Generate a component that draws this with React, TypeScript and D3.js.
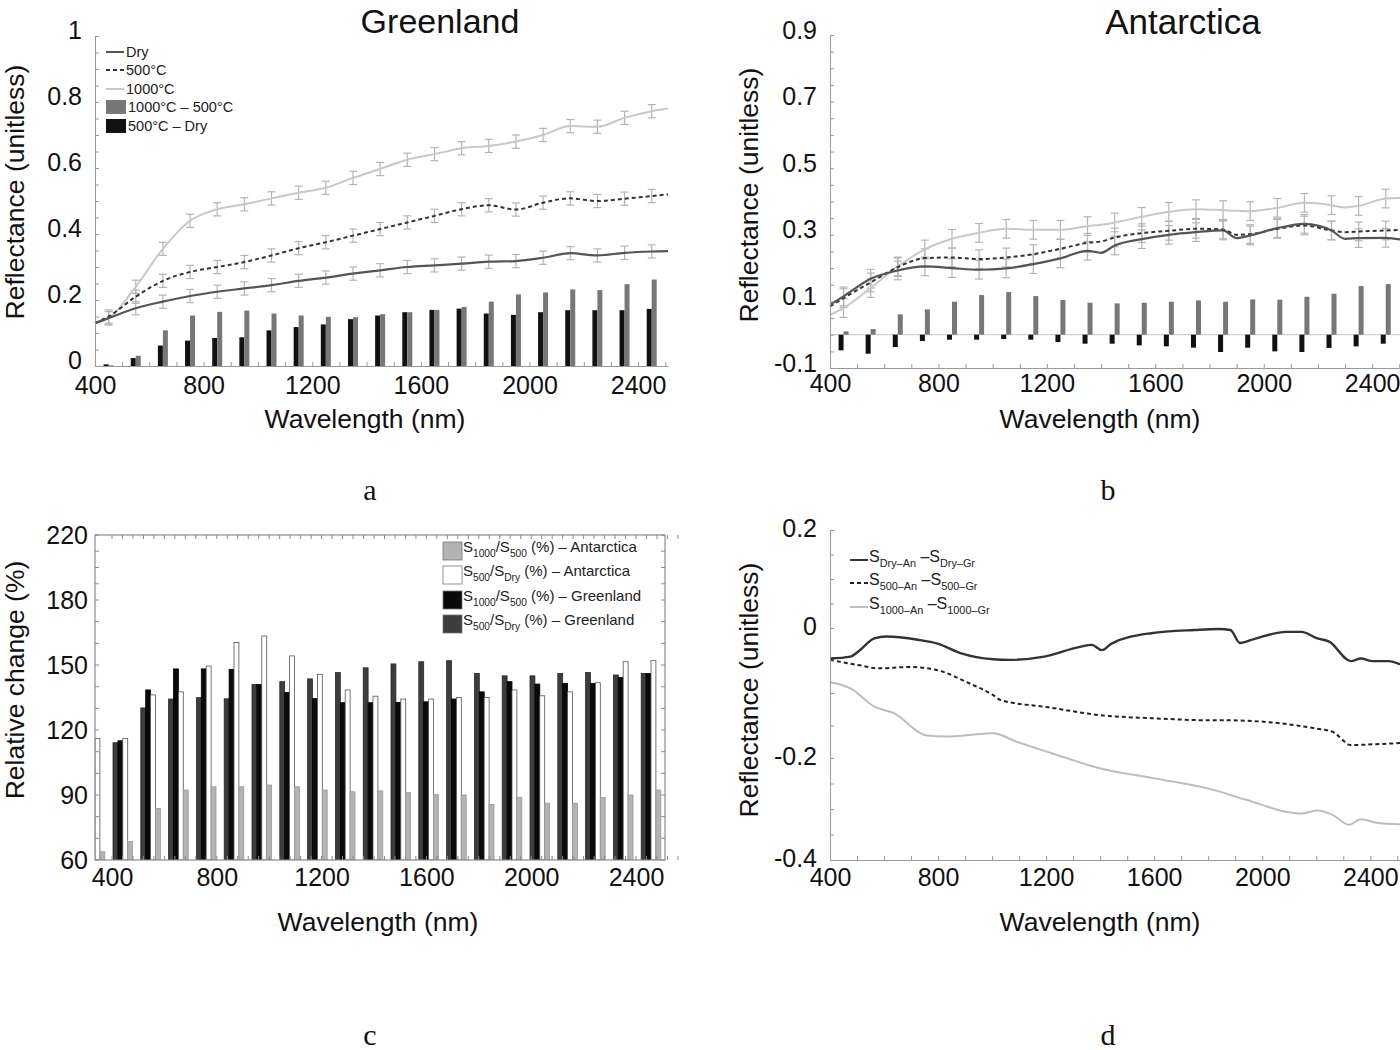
import { useEffect, useRef } from 'react'
import * as d3 from 'd3'

const FONT = '"Liberation Sans", Arial, Helvetica, sans-serif'
const SERIF = '"Liberation Serif", "DejaVu Serif", serif'
const AXIS = '#9a9a9a'

// ---- panel a : Greenland spectra ----
const wlA = [400, 450, 550, 650, 750, 850, 950, 1050, 1150, 1250, 1350, 1450, 1550, 1650, 1750, 1850, 1950, 2050, 2150, 2250, 2350, 2450, 2510]
const grDry = [0.13, 0.145, 0.175, 0.195, 0.212, 0.225, 0.235, 0.245, 0.258, 0.268, 0.28, 0.29, 0.3, 0.305, 0.31, 0.316, 0.318, 0.328, 0.342, 0.335, 0.343, 0.347, 0.348]
const gr500 = [0.13, 0.15, 0.21, 0.258, 0.285, 0.3, 0.315, 0.335, 0.357, 0.375, 0.395, 0.415, 0.435, 0.455, 0.475, 0.487, 0.474, 0.495, 0.508, 0.5, 0.507, 0.515, 0.52]
const gr1000 = [0.13, 0.145, 0.24, 0.355, 0.44, 0.475, 0.49, 0.508, 0.525, 0.54, 0.57, 0.597, 0.625, 0.642, 0.66, 0.667, 0.68, 0.7, 0.727, 0.725, 0.752, 0.772, 0.78]
const barWl = [450, 550, 650, 750, 850, 950, 1050, 1150, 1250, 1350, 1450, 1550, 1650, 1750, 1850, 1950, 2050, 2150, 2250, 2350, 2450]
const gr500MinusDry = [0.005, 0.024, 0.062, 0.077, 0.085, 0.087, 0.108, 0.118, 0.126, 0.142, 0.153, 0.163, 0.17, 0.174, 0.159, 0.155, 0.163, 0.169, 0.169, 0.169, 0.173]
const gr1000Minus500 = [0.002, 0.031, 0.108, 0.153, 0.164, 0.168, 0.159, 0.153, 0.149, 0.148, 0.157, 0.163, 0.17, 0.179, 0.195, 0.217, 0.223, 0.232, 0.23, 0.248, 0.262]

// ---- panel b : Antarctica spectra ----
const wlB = [400, 450, 550, 650, 750, 850, 950, 1050, 1150, 1250, 1350, 1400, 1450, 1550, 1650, 1750, 1850, 1900, 1950, 2050, 2150, 2250, 2300, 2350, 2450, 2510]
const anDry = [0.09, 0.115, 0.168, 0.193, 0.205, 0.2, 0.195, 0.199, 0.212, 0.229, 0.252, 0.246, 0.268, 0.287, 0.3, 0.308, 0.313, 0.29, 0.298, 0.32, 0.333, 0.313, 0.288, 0.29, 0.291, 0.285]
const an500 = [0.085, 0.11, 0.157, 0.203, 0.23, 0.232, 0.227, 0.232, 0.242, 0.258, 0.276, 0.28, 0.292, 0.305, 0.312, 0.318, 0.316, 0.3, 0.302, 0.318, 0.328, 0.313, 0.308, 0.31, 0.313, 0.315]
const an1000 = [0.06, 0.08, 0.14, 0.205, 0.256, 0.288, 0.306, 0.318, 0.315, 0.315, 0.326, 0.33, 0.337, 0.354, 0.369, 0.377, 0.374, 0.372, 0.371, 0.381, 0.396, 0.389, 0.382, 0.387, 0.409, 0.411]
const an1000Minus500 = [0.01, 0.017, 0.061, 0.076, 0.099, 0.119, 0.128, 0.116, 0.104, 0.096, 0.094, 0.096, 0.099, 0.103, 0.099, 0.106, 0.105, 0.114, 0.123, 0.146, 0.152]
const an500MinusDry = [-0.047, -0.057, -0.037, -0.019, -0.015, -0.015, -0.013, -0.015, -0.022, -0.027, -0.027, -0.032, -0.035, -0.039, -0.052, -0.039, -0.05, -0.052, -0.04, -0.035, -0.027]

// ---- panel c : relative change (%) ----
const relWl = [400, 500, 600, 700, 800, 900, 1000, 1100, 1200, 1300, 1400, 1500, 1600, 1700, 1800, 1900, 2000, 2100, 2200, 2300, 2400]
const grRel500Dry = [NaN, 114.1, 130.2, 134.3, 134.9, 134.4, 141, 142.3, 143.6, 146.5, 148.7, 150.5, 151.5, 152, 146.1, 145, 145, 146.1, 146.5, 145.4, 146.1]
const grRel1000to500 = [NaN, 115, 138.5, 148.2, 148.2, 148, 141, 137.3, 134.5, 132.6, 132.6, 132.7, 133, 134.3, 137.6, 142.3, 141.2, 141.5, 141.5, 144.3, 146.1]
const anRel500Dry = [116.1, 116.1, 136.2, 137.6, 149.5, 160.4, 163.4, 154.2, 145.7, 138.5, 135.6, 134.3, 134.3, 135, 135, 138.5, 135.8, 137.6, 141.8, 151.5, 152]
const anRel1000to500 = [63.8, 68.5, 83.8, 92.3, 93.8, 93.8, 94.6, 93.8, 92.3, 91.5, 91.9, 91.1, 90.3, 90, 85.7, 88.8, 86.2, 86.2, 88.9, 90, 92.3]

// ---- panel d : Antarctica minus Greenland ----
const wlDDry = [400, 476, 505, 564, 608, 725, 798, 886, 1003, 1062, 1193, 1325, 1369, 1406, 1442, 1589, 1750, 1838, 1882, 1918, 1969, 2087, 2145, 2204, 2248, 2328, 2365, 2409, 2467, 2510]
const diffDry = [-0.047, -0.044, -0.036, -0.016, -0.013, -0.018, -0.024, -0.039, -0.048, -0.049, -0.044, -0.029, -0.026, -0.034, -0.024, -0.008, -0.003, -0.0015, -0.003, -0.023, -0.017, -0.006, -0.006, -0.016, -0.021, -0.051, -0.047, -0.051, -0.051, -0.056]
const wlD500 = [400, 505, 579, 696, 798, 915, 1003, 1032, 1208, 1398, 1603, 1808, 1866, 1999, 2189, 2262, 2328, 2409, 2510]
const diff500 = [-0.049, -0.057, -0.062, -0.06, -0.065, -0.085, -0.103, -0.111, -0.122, -0.134, -0.139, -0.142, -0.142, -0.144, -0.154, -0.16, -0.18, -0.179, -0.177]
const wlD1000 = [400, 476, 564, 637, 754, 827, 1003, 1091, 1223, 1398, 1603, 1823, 1940, 2145, 2204, 2262, 2321, 2365, 2423, 2510]
const diff1000 = [-0.083, -0.093, -0.121, -0.131, -0.165, -0.167, -0.162, -0.175, -0.193, -0.22, -0.24, -0.263, -0.282, -0.309, -0.303, -0.312, -0.331, -0.32, -0.327, -0.33]

const xTickWl = [400, 800, 1200, 1600, 2000, 2400]

function leftAxis(svg: any, y: any, x0: number, majors: number[], minors: number[], pad: number, shift = 0) {
  const g = svg.append('g').attr('transform', `translate(${x0},0)`)
  g.call(d3.axisLeft(y).tickValues(minors).tickSize(-4).tickSizeOuter(0).tickFormat(() => ''))
  g.select('.domain').attr('stroke', AXIS)
  g.selectAll('.tick line').attr('stroke', AXIS)
  const lab = svg.append('g').attr('transform', `translate(${x0},${shift})`)
  lab.call(d3.axisLeft(y).tickValues(majors).tickSize(0).tickPadding(pad).tickFormat((d: any) => String(d)))
  lab.select('.domain').remove()
  lab.selectAll('text').attr('font-family', FONT).attr('font-size', 25).attr('fill', '#111')
}

function bottomAxis(svg: any, x: any, y0: number, minors: number[], labelScale: any, pad: number) {
  const g = svg.append('g').attr('transform', `translate(0,${y0})`)
  g.call(d3.axisBottom(x).tickValues(minors).tickSize(-4).tickSizeOuter(0).tickFormat(() => ''))
  g.select('.domain').attr('stroke', AXIS)
  g.selectAll('.tick line').attr('stroke', AXIS)
  const lab = svg.append('g').attr('transform', `translate(0,${y0})`)
  lab.call(d3.axisBottom(labelScale).tickValues(xTickWl).tickSize(0).tickPadding(pad).tickFormat((d: any) => String(d)))
  lab.select('.domain').remove()
  lab.selectAll('text').attr('font-family', FONT).attr('font-size', 25).attr('fill', '#111')
}

function label(svg: any, x: number, y: number, text: string, size: number, rotate = false, family = FONT) {
  svg.append('text')
    .attr('transform', rotate ? `translate(${x},${y}) rotate(-90)` : `translate(${x},${y})`)
    .attr('text-anchor', 'middle')
    .attr('font-family', family)
    .attr('font-size', size)
    .attr('fill', '#111')
    .text(text)
}

// alternating normal / subscript parts
function rich(g: any, x: number, y: number, parts: string[], size: number) {
  const t = g.append('text').attr('x', x).attr('y', y)
    .attr('font-family', FONT).attr('font-size', size).attr('fill', '#222')
  parts.forEach((p, i) => {
    const sub = i % 2 === 1
    t.append('tspan')
      .attr('font-size', sub ? size * 0.68 : size)
      .attr('dy', i === 0 ? 0 : sub ? size * 0.32 : -size * 0.32)
      .text(p)
  })
}

const lineStyles = [
  { stroke: '#555', width: 2.2, dash: null },
  { stroke: '#333', width: 2, dash: '4,3' },
  { stroke: '#c8c8c8', width: 2, dash: null },
]

function drawSpectra(svg: any, x: any, y: any, wl: number[], series: number[][], err: number) {
  // error bars at the mid-band wavelengths
  series.forEach(vals => {
    wl.forEach((w, i) => {
      if (w % 100 !== 50) return
      const cx = x(w)
      const g = svg.append('g').attr('stroke', '#b4b4b4').attr('stroke-width', 1.2)
      g.append('line').attr('x1', cx).attr('x2', cx).attr('y1', y(vals[i] - err)).attr('y2', y(vals[i] + err))
      g.append('line').attr('x1', cx - 4).attr('x2', cx + 4).attr('y1', y(vals[i] - err)).attr('y2', y(vals[i] - err))
      g.append('line').attr('x1', cx - 4).attr('x2', cx + 4).attr('y1', y(vals[i] + err)).attr('y2', y(vals[i] + err))
    })
  })
  const order = [2, 1, 0]
  order.forEach(k => {
    const line = d3.line<number>().x((_, i) => x(wl[i])).y(d => y(d)).curve(d3.curveMonotoneX)
    svg.append('path')
      .datum(series[k])
      .attr('fill', 'none')
      .attr('stroke', lineStyles[k].stroke)
      .attr('stroke-width', lineStyles[k].width)
      .attr('stroke-dasharray', lineStyles[k].dash)
      .attr('d', line)
  })
}

function drawPairs(svg: any, x: any, y: any, black: number[], gray: number[]) {
  const bw = 5
  barWl.forEach((w, i) => {
    const cx = x(w)
    svg.append('rect').attr('x', cx - bw).attr('width', bw)
      .attr('y', Math.min(y(0), y(black[i]))).attr('height', Math.abs(y(0) - y(black[i])))
      .attr('fill', '#111')
    svg.append('rect').attr('x', cx).attr('width', bw)
      .attr('y', Math.min(y(0), y(gray[i]))).attr('height', Math.abs(y(0) - y(gray[i])))
      .attr('fill', '#777')
  })
}

function drawGreenland(svg: any) {
  const x = d3.scaleLinear().domain([400, 2510]).range([95, 668])
  const y = d3.scaleLinear().domain([0, 1]).range([366, 36])
  drawPairs(svg, x, y, gr500MinusDry, gr1000Minus500)
  drawSpectra(svg, x, y, wlA, [grDry, gr500, gr1000], 0.02)
  leftAxis(svg, y, 95, [0, 0.2, 0.4, 0.6, 0.8, 1], d3.range(0, 1.001, 0.05), 13, -6)
  bottomAxis(svg, x, 366, d3.range(400, 2501, 100), x, 10)

  // legend
  const lg = svg.append('g')
  const rows = [52, 70, 89, 107, 126]
  const names = ['Dry', '500°C', '1000°C', '1000°C – 500°C', '500°C – Dry']
  names.forEach((n, i) => {
    if (i < 3) {
      lg.append('line').attr('x1', 106).attr('x2', 124).attr('y1', rows[i]).attr('y2', rows[i])
        .attr('stroke', lineStyles[i].stroke).attr('stroke-width', 2).attr('stroke-dasharray', lineStyles[i].dash)
    } else {
      lg.append('rect').attr('x', 106).attr('y', rows[i] - 7).attr('width', 20).attr('height', 14)
        .attr('fill', i === 3 ? '#777' : '#111')
    }
    lg.append('text').attr('x', i < 3 ? 126 : 128).attr('y', rows[i] + 5)
      .attr('font-family', FONT).attr('font-size', 14.5).attr('fill', '#222').text(n)
  })

  label(svg, 440, 33, 'Greenland', 34)
  label(svg, 365, 428, 'Wavelength (nm)', 26.5)
  label(svg, 24, 192, 'Reflectance (unitless)', 26.5, true)
  label(svg, 370, 500, 'a', 30, false, SERIF)
}

function drawAntarctica(svg: any) {
  const x = d3.scaleLinear().domain([400, 2510]).range([830, 1402])
  const y = d3.scaleLinear().domain([-0.1, 0.9]).range([368, 35])
  svg.append('line').attr('x1', 830).attr('x2', 1400).attr('y1', y(0)).attr('y2', y(0))
    .attr('stroke', '#c4c4c4').attr('stroke-width', 1)
  drawPairs(svg, x, y, an500MinusDry, an1000Minus500)
  drawSpectra(svg, x, y, wlB, [anDry, an500, an1000], 0.028)
  leftAxis(svg, y, 830, [-0.1, 0.1, 0.3, 0.5, 0.7, 0.9], d3.range(-0.1, 0.901, 0.05), 13, -5)
  bottomAxis(svg, x, 368, d3.range(400, 2501, 100), x, 6)

  label(svg, 1183, 34, 'Antarctica', 35)
  label(svg, 1100, 428, 'Wavelength (nm)', 26.5)
  label(svg, 758, 195, 'Reflectance (unitless)', 26.5, true)
  label(svg, 1108, 500, 'b', 30, false, SERIF)
}

function drawRelative(svg: any) {
  const left = 95, right = 665, top = 535, bottom = 860
  const x = d3.scaleLinear().domain([400, 2400]).range([95, 651])
  const xLab = d3.scaleLinear().domain([400, 2400]).range([112, 636])
  const y = d3.scaleLinear().domain([60, 180, 220]).range([860, 600, 535])

  const clip = svg.append('clipPath').attr('id', 'clipC')
  clip.append('rect').attr('x', left).attr('y', top).attr('width', right - left).attr('height', bottom - top)
  const bars = svg.append('g').attr('clip-path', 'url(#clipC)')

  const bw = 4.9
  const series = [
    { vals: grRel500Dry, fill: '#3d3d3d', stroke: '#2a2a2a' },
    { vals: grRel1000to500, fill: '#0a0a0a', stroke: '#000' },
    { vals: anRel500Dry, fill: '#fff', stroke: '#555' },
    { vals: anRel1000to500, fill: '#b3b3b3', stroke: '#999' },
  ]
  relWl.forEach((w, i) => {
    series.forEach((s, k) => {
      const v = s.vals[i]
      if (Number.isNaN(v)) return
      bars.append('rect')
        .attr('x', x(w) - 2 * bw + k * bw)
        .attr('width', bw)
        .attr('y', y(v))
        .attr('height', y(60) - y(v))
        .attr('fill', s.fill)
        .attr('stroke', s.stroke)
        .attr('stroke-width', 0.8)
    })
  })

  // frame with inward ticks
  svg.append('rect').attr('x', left).attr('y', top).attr('width', right - left).attr('height', bottom - top)
    .attr('fill', 'none').attr('stroke', '#8a8a8a').attr('stroke-width', 1.2)
  const tk = svg.append('g').attr('stroke', '#8a8a8a').attr('stroke-width', 1)
  d3.range(60, 221, 10).forEach(v => {
    tk.append('line').attr('x1', left).attr('x2', left + 4).attr('y1', y(v)).attr('y2', y(v))
    tk.append('line').attr('x1', right).attr('x2', right - 4).attr('y1', y(v)).attr('y2', y(v))
  })
  d3.range(400, 2561, 40).forEach(v => {
    tk.append('line').attr('x1', xLab(v)).attr('x2', xLab(v)).attr('y1', top).attr('y2', top + 4)
    tk.append('line').attr('x1', xLab(v)).attr('x2', xLab(v)).attr('y1', bottom).attr('y2', bottom - 4)
  })

  const yl = svg.append('g').attr('transform', `translate(${left},0)`)
  yl.call(d3.axisLeft(y).tickValues([60, 90, 120, 150, 180, 220]).tickSize(0).tickPadding(7).tickFormat((d: any) => String(d)))
  yl.select('.domain').remove()
  yl.selectAll('text').attr('font-family', FONT).attr('font-size', 25).attr('fill', '#111')
  const xl = svg.append('g').attr('transform', `translate(0,${bottom})`)
  xl.call(d3.axisBottom(xLab).tickValues(xTickWl).tickSize(0).tickPadding(8).tickFormat((d: any) => String(d)))
  xl.select('.domain').remove()
  xl.selectAll('text').attr('font-family', FONT).attr('font-size', 25).attr('fill', '#111')

  // legend
  const lg = svg.append('g')
  const rows = [551, 575, 600, 624]
  const legendSeries = [series[3], series[2], series[1], series[0]]
  const texts = [
    ['S', '1000', '/S', '500', ' (%) – Antarctica'],
    ['S', '500', '/S', 'Dry', ' (%) – Antarctica'],
    ['S', '1000', '/S', '500', ' (%) – Greenland'],
    ['S', '500', '/S', 'Dry', ' (%) – Greenland'],
  ]
  rows.forEach((ry, i) => {
    lg.append('rect').attr('x', 443).attr('y', ry - 9).attr('width', 19).attr('height', 18)
      .attr('fill', legendSeries[i].fill).attr('stroke', '#777').attr('stroke-width', 0.8)
    rich(lg, 463, ry + 1, texts[i], 15)
  })

  label(svg, 378, 931, 'Wavelength (nm)', 26.5)
  label(svg, 24, 680, 'Relative change (%)', 26.5, true)
  label(svg, 370, 1045, 'c', 30, false, SERIF)
}

function drawDifference(svg: any) {
  const x = d3.scaleLinear().domain([400, 2510]).range([830, 1400])
  const y = d3.scaleLinear().domain([-0.4, -0.2, 0, 0.2]).range([860, 758, 628, 530])

  const sets = [
    { wl: wlDDry, v: diffDry, stroke: '#333', width: 2.4, dash: null },
    { wl: wlD500, v: diff500, stroke: '#222', width: 2, dash: '4,3' },
    { wl: wlD1000, v: diff1000, stroke: '#bdbdbd', width: 2, dash: null },
  ]
  sets.forEach(s => {
    const line = d3.line<number>().x((_, i) => x(s.wl[i])).y(d => y(d)).curve(d3.curveMonotoneX)
    svg.append('path').datum(s.v).attr('fill', 'none')
      .attr('stroke', s.stroke).attr('stroke-width', s.width).attr('stroke-dasharray', s.dash)
      .attr('d', line)
  })

  leftAxis(svg, y, 830, [-0.4, -0.2, 0, 0.2], d3.range(-0.4, 0.201, 0.05), 13, -2)
  bottomAxis(svg, x, 860, d3.range(400, 2501, 100), x, 8)

  const lg = svg.append('g')
  const rows = [560, 583, 607]
  const texts = [
    ['S', 'Dry–An', ' –S', 'Dry–Gr'],
    ['S', '500–An', ' –S', '500–Gr'],
    ['S', '1000–An', ' –S', '1000–Gr'],
  ]
  rows.forEach((ry, i) => {
    lg.append('line').attr('x1', 850).attr('x2', 868).attr('y1', ry).attr('y2', ry)
      .attr('stroke', sets[i].stroke).attr('stroke-width', 2).attr('stroke-dasharray', sets[i].dash)
    rich(lg, 869, ry + 2, texts[i], 16)
  })

  label(svg, 1100, 931, 'Wavelength (nm)', 26.5)
  label(svg, 758, 690, 'Reflectance (unitless)', 26.5, true)
  label(svg, 1108, 1045, 'd', 30, false, SERIF)
}

export default function App() {
  const ref = useRef<SVGSVGElement>(null)

  useEffect(() => {
    if (!ref.current) return
    const svg = d3.select(ref.current)
    svg.selectAll('*').remove()
    svg.append('rect').attr('width', 1400).attr('height', 1050).attr('fill', '#fff')
    drawGreenland(svg)
    drawAntarctica(svg)
    drawRelative(svg)
    drawDifference(svg)
  }, [])

  return (
    <svg
      ref={ref}
      width={1400}
      height={1050}
      style={{ position: 'absolute', left: 0, top: 0, display: 'block' }}
    />
  )
}
